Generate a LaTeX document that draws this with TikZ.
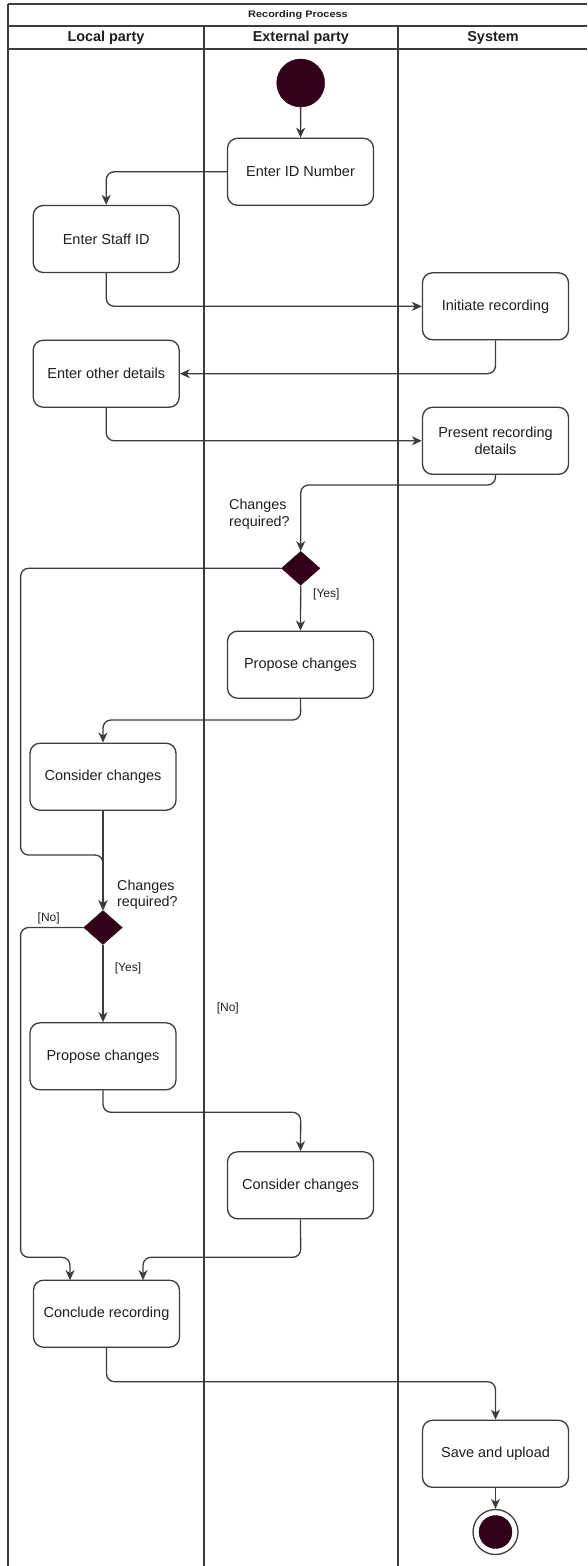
\documentclass[tikz,border=0pt]{standalone}
\usepackage{fontspec}
\setmainfont{Liberation Sans}
\usetikzlibrary{shapes.geometric,arrows.meta}
\definecolor{ink}{HTML}{3C3C3C}
\definecolor{txt}{HTML}{1E1E1E}
\definecolor{solid}{HTML}{330019}

\begin{document}
\begin{tikzpicture}[x=1pt,y=-1pt,
  lane/.style={draw=ink,line width=1.6pt},
  act/.style={draw=ink,line width=1.3pt,rounded corners=10pt,
    minimum width=146pt,minimum height=67pt,inner sep=2pt,align=center,
    text=txt,font=\fontsize{14.5}{16.7}\selectfont},
  flow/.style={draw=ink,line width=1.3pt,rounded corners=8pt,
    -{Stealth[length=10pt,width=9pt,inset=3pt]}},
  decision/.style={diamond,fill=solid,draw=solid,inner sep=0pt,
    minimum width=38.6pt,minimum height=34pt},
  guard/.style={text=txt,font=\fontsize{12}{14}\selectfont,inner sep=0pt},
  question/.style={text=txt,font=\fontsize{14.3}{16.7}\selectfont,
    align=left,inner sep=0pt,anchor=west},
  header/.style={text=txt,font=\fontsize{14.4}{16}\selectfont\bfseries}
]
\useasboundingbox (0,0) rectangle (587,1566);

% swimlane frame
\draw[lane] (8,4) -- (587,4);
\draw[lane] (8,26) -- (587,26);
\draw[lane] (8,49) -- (587,49);
\draw[lane] (8,4) -- (8,1566);
\draw[lane] (204,26) -- (204,1566);
\draw[lane] (397.7,26) -- (397.7,1566);

\node[text=txt,font=\fontsize{9.5}{11}\selectfont\bfseries] (title) at (298,15.5)
  {\scalebox{1.15}[1]{Recording Process}};
\node[header] (hlocal) at (106,37.5) {Local party};
\node[header] (hext) at (300.9,37.5) {External party};
\node[header] (hsys) at (493,37.5) {System};

% activities
\node[circle,fill=solid,draw=solid,minimum size=48pt,inner sep=0pt] (start) at (300.7,83) {};
\node[act] (idnum) at (300.5,171.8) {Enter ID Number};
\node[act] (staffid) at (106.2,239) {Enter Staff ID};
\node[act] (initrec) at (495.5,306.3) {Initiate recording};
\node[act] (otherdet) at (106.2,373.7) {Enter other details};
\node[act] (presrec) at (495.5,440.8) {Present recording\\details};
\node[decision] (dec1) at (300.7,568.3) {};
\node[act] (propext) at (300.5,664.7) {Propose changes};
\node[act] (consloc) at (103,776.7) {Consider changes};
\node[decision] (dec2) at (103,927.5) {};
\node[act] (proploc) at (103,1056.3) {Propose changes};
\node[act] (consext) at (300.5,1185.3) {Consider changes};
\node[act] (concl) at (106.5,1313.7) {Conclude recording};
\node[act] (save) at (495.5,1453.8) {Save and upload};
\node[circle,draw=ink,line width=1.3pt,minimum size=45pt,inner sep=0pt] (finish) at (495.5,1532) {};
\node[circle,fill=solid,draw=solid,minimum size=33pt,inner sep=0pt] (finishdot) at (finish) {};

% labels
\node[question] (q1) at (229,514.5) {Changes\\required?};
\node[question] (q2) at (117,894.7) {Changes\\required?};
\node[guard,anchor=west] (yes1) at (313,594) {[Yes]};
\node[guard] (no1) at (48.7,918) {[No]};
\node[guard] (yes2) at (128,968) {[Yes]};
\node[guard] (no2) at (227.8,1008) {[No]};

% routing points
\coordinate (w1) at (300.7,485);
\coordinate (w2) at (20.6,568.3);
\coordinate (w3) at (20.6,855);
\coordinate (w4) at (103,855);
\coordinate (w5) at (300.7,720);
\coordinate (w6) at (103,720);
\coordinate (w7) at (20.6,927.5);
\coordinate (w8) at (20.6,1257.3);
\coordinate (w9) at (70,1257.3);
\coordinate (c1) at (70,1280.1);
\coordinate (w10) at (103,1112.3);
\coordinate (w11) at (300.7,1112.3);
\coordinate (w12) at (300.7,1257.3);
\coordinate (w13) at (143,1257.3);
\coordinate (c2) at (143,1280.1);
\coordinate (w14) at (106.5,1381.7);
\coordinate (w15) at (495.5,1381.7);

% control flow
\draw[flow] (start) -- (idnum);
\draw[flow] (idnum.west) -| (staffid.north);
\draw[flow] (staffid.south) |- (initrec.west);
\draw[flow] (initrec.south) |- (otherdet.east);
\draw[flow] (otherdet.south) |- (presrec.west);
\draw[flow] (presrec.south) |- (w1) -- (dec1.north);
\draw[flow] (dec1.south) -- (propext.north);
\draw[flow] (dec1.west) -- (w2) -- (w3) -- (w4) -- (dec2.north);
\draw[flow] (propext.south) -- (w5) -- (w6) -- (consloc.north);
\draw[flow] (consloc.south) -- (dec2.north);
\draw[flow] (dec2.west) -- (w7) -- (w8) -- (w9) -- (c1);
\draw[flow] (dec2.south) -- (proploc.north);
\draw[flow] (proploc.south) -- (w10) -- (w11) -- (consext.north);
\draw[flow] (consext.south) -- (w12) -- (w13) -- (c2);
\draw[flow] (concl.south) -- (w14) -- (w15) -- (save.north);
\draw[flow] (save.south) -- (finish.north);
\end{tikzpicture}
\end{document}
